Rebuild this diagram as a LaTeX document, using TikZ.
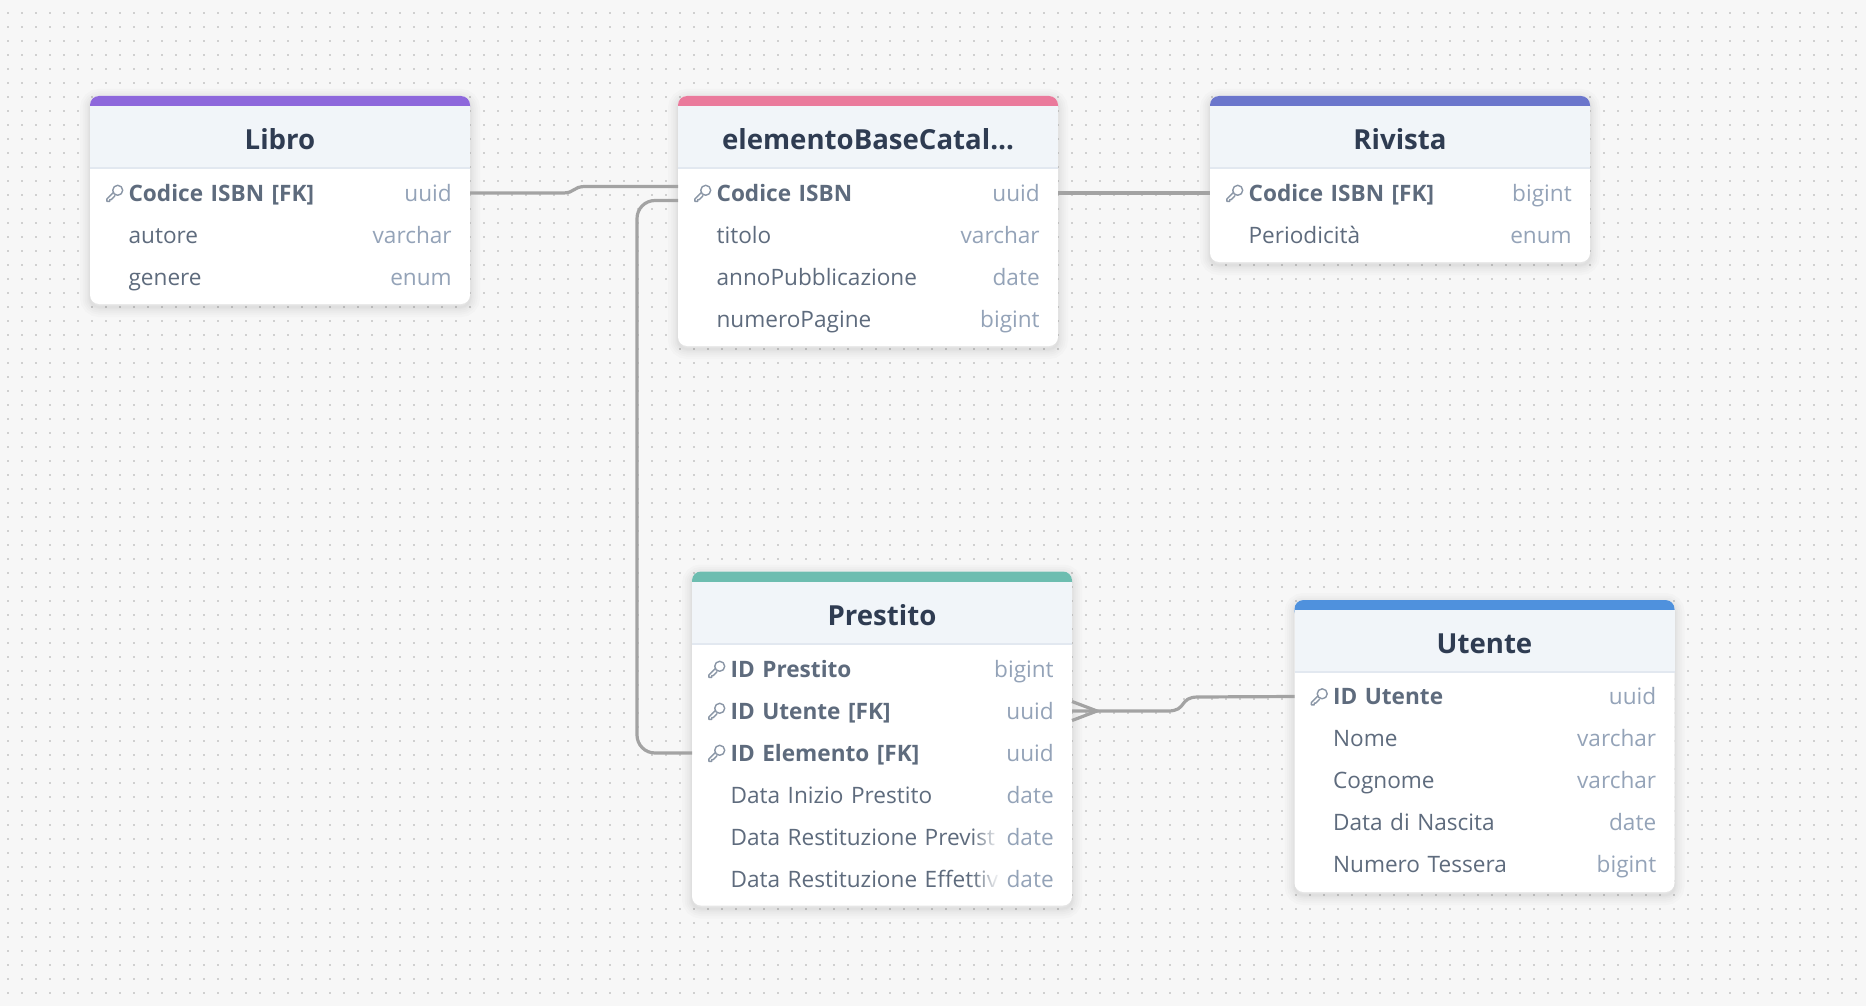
\documentclass[tikz,border=0pt]{standalone}
\usepackage{fontspec}
\setmainfont{Open Sans}
\usepackage{tikz}
\usetikzlibrary{fadings}
\definecolor{pagegray}{HTML}{F7F7F7}
\definecolor{dotgray}{HTML}{D0D0D0}
\definecolor{linkgray}{HTML}{A3A3A3}
\definecolor{headgray}{HTML}{F1F5F9}
\definecolor{sepgray}{HTML}{E2E8F0}
\definecolor{titlegray}{HTML}{2F3C52}
\definecolor{fieldgray}{HTML}{5E6B7D}
\definecolor{typegray}{HTML}{94A3B8}
\definecolor{keygray}{HTML}{8A96A6}
\definecolor{libropurple}{HTML}{8E68DC}
\definecolor{elementopink}{HTML}{EA7A9C}
\definecolor{rivistablue}{HTML}{6B76CC}
\definecolor{prestitogreen}{HTML}{6DBDB0}
\definecolor{utenteblue}{HTML}{4F91DD}
\newcommand{\Frow}[2]{\hspace*{38.6pt}\rlap{\textcolor{fieldgray}{#1}}\hfill\textcolor{typegray}{#2}\hspace*{18.3pt}\null}
\newcommand{\Fkey}[2]{\Frow{\bfseries #1}{#2}}
\tikzfading[name=rowfade, left color=transparent!100, right color=transparent!0]
\tikzset{shadowring/.style={preaction={transform canvas={yshift=-3pt},draw=black,fill=none,line width=#1,opacity=.017}}}
\tikzset{tablebody/.style={rectangle,rounded corners=9pt,fill=white,minimum width=380pt,inner sep=0pt,outer sep=0pt,
  shadowring=20pt,shadowring=15pt,shadowring=11pt,shadowring=7pt,shadowring=4pt,shadowring=2pt}}
\tikzset{tablebar/.style={rectangle,rounded corners=9pt,minimum width=380pt,minimum height=20pt,inner sep=0pt,outer sep=0pt}}
\tikzset{tablehead/.style={rectangle,fill=headgray,minimum width=380pt,minimum height=62pt,inner sep=0pt,outer sep=0pt,
  text=titlegray,font=\fontsize{27.6}{32}\selectfont\bfseries,text height=27.4pt,text depth=2.6pt}}
\tikzset{tablerow/.style={rectangle,minimum height=42pt,inner sep=0pt,outer sep=0pt,text width=380pt,
  font=\fontsize{22.6}{26}\selectfont,text height=26pt,text depth=10pt}}
\tikzset{sepline/.style={draw=sepgray,line width=1.5pt}}
\tikzset{dotline/.style={draw=dotgray,line width=1.7pt,dash pattern=on 1.7pt off 12.3pt}}
\tikzset{linkline/.style={draw=linkgray,line width=3.2pt}}
\tikzset{rowfadebox/.style={rectangle,fill=white,minimum width=28pt,minimum height=34pt,inner sep=0pt,path fading=rowfade}}
\tikzset{keyicon/.pic={
  \draw[draw=keygray,line width=1.4pt,line join=round] (3,-2.7) circle (5pt);
  \draw[draw=keygray,line width=1.4pt,line join=round] (-1.2,-0.6) -- (-7.8,6) -- (-7.8,8.4) -- (-5,8.4) -- (-5,6.6) -- (-3.4,6.6) -- (0.6,2.4);
}}
\begin{document}
\begin{tikzpicture}[x=1pt,y=-1pt]
\useasboundingbox (0,0) rectangle (1866,1006);
\fill[pagegray] (0,0) rectangle (1866,1006);
\foreach \dotrow in {0,...,71}
  \draw[dotline] (7,12.7+14*\dotrow) -- (1866,12.7+14*\dotrow);
% Libro
\node (libroB) [tablebody,minimum height=208pt] at (280,200) {};
\node (libroT) [tablebar,fill=libropurple] at (280,106) {};
\node (libroH) [tablehead] at (280,137) {Libro};
\draw[sepline] (libroH.south west) -- (libroH.south east);
\node (libroR1) [tablerow] at (280,193) {\Fkey{Codice ISBN [FK]}{uuid}};
\node (libroR2) [tablerow] at (280,235) {\Frow{autore}{varchar}};
\node (libroR3) [tablerow] at (280,277) {\Frow{genere}{enum}};
\pic at ([xshift=24.7pt]libroR1.west) {keyicon};
% elementoBaseCatalogo
\node (elemB) [tablebody,minimum height=250pt] at (868,221) {};
\node (elemT) [tablebar,fill=elementopink] at (868,106) {};
\node (elemH) [tablehead] at (868,137) {elementoBaseCatal…};
\draw[sepline] (elemH.south west) -- (elemH.south east);
\node (elemR1) [tablerow] at (868,193) {\Fkey{Codice ISBN}{uuid}};
\node (elemR2) [tablerow] at (868,235) {\Frow{titolo}{varchar}};
\node (elemR3) [tablerow] at (868,277) {\Frow{annoPubblicazione}{date}};
\node (elemR4) [tablerow] at (868,319) {\Frow{numeroPagine}{bigint}};
\pic at ([xshift=24.7pt]elemR1.west) {keyicon};
% Rivista
\node (rivB) [tablebody,minimum height=166pt] at (1400,179) {};
\node (rivT) [tablebar,fill=rivistablue] at (1400,106) {};
\node (rivH) [tablehead] at (1400,137) {Rivista};
\draw[sepline] (rivH.south west) -- (rivH.south east);
\node (rivR1) [tablerow] at (1400,193) {\Fkey{Codice ISBN [FK]}{bigint}};
\node (rivR2) [tablerow] at (1400,235) {\Frow{Periodicità}{enum}};
\pic at ([xshift=24.7pt]rivR1.west) {keyicon};
% Prestito
\node (prestB) [tablebody,minimum height=334pt] at (882,738.5) {};
\node (prestT) [tablebar,fill=prestitogreen] at (882,581.5) {};
\node (prestH) [tablehead] at (882,613) {Prestito};
\draw[sepline] (prestH.south west) -- (prestH.south east);
\node (prestR1) [tablerow] at (882,669) {\Fkey{ID Prestito}{bigint}};
\node (prestR2) [tablerow] at (882,711) {\Fkey{ID Utente [FK]}{uuid}};
\node (prestR3) [tablerow] at (882,753) {\Fkey{ID Elemento [FK]}{uuid}};
\node (prestR4) [tablerow] at (882,795) {\Frow{Data Inizio Prestito}{date}};
\node (prestR5) [tablerow] at (882,837) {\Frow{Data Restituzione Previst}{date}};
\node (prestR6) [tablerow] at (882,879) {\Frow{Data Restituzione Effettiv}{date}};
\node (prestF5) [rowfadebox] at (986,837) {};
\node (prestF6) [rowfadebox] at (986,879) {};
\pic at ([xshift=24.7pt]prestR1.west) {keyicon};
\pic at ([xshift=24.7pt]prestR2.west) {keyicon};
\pic at ([xshift=24.7pt]prestR3.west) {keyicon};
% Utente
\node (utenteB) [tablebody,minimum height=292pt] at (1484.5,746) {};
\node (utenteT) [tablebar,fill=utenteblue] at (1484.5,610) {};
\node (utenteH) [tablehead] at (1484.5,641) {Utente};
\draw[sepline] (utenteH.south west) -- (utenteH.south east);
\node (utenteR1) [tablerow] at (1484.5,696.5) {\Fkey{ID Utente}{uuid}};
\node (utenteR2) [tablerow] at (1484.5,738.5) {\Frow{Nome}{varchar}};
\node (utenteR3) [tablerow] at (1484.5,780.5) {\Frow{Cognome}{varchar}};
\node (utenteR4) [tablerow] at (1484.5,822.5) {\Frow{Data di Nascita}{date}};
\node (utenteR5) [tablerow] at (1484.5,864.5) {\Frow{Numero Tessera}{bigint}};
\pic at ([xshift=24.7pt]utenteR1.west) {keyicon};
%
\draw[linkline] (libroR1.east) -- ++(92,0) to[out=0,in=180,looseness=1.5] ++(24,-6.5) -- ([yshift=6.5pt]elemR1.west);
\draw[linkline] (elemR1.east) -- (rivR1.west);
\draw[linkline,rounded corners=18pt] ([yshift=-7.5pt]elemR1.west) -- ++(-41,0) |- (prestR3.west);
\draw[linkline] (prestR2.east) -- ++(96,0) to[out=0,in=180,looseness=1.5] ++(30,-14) -- (utenteR1.west);
\draw[linkline] ([yshift=9.5pt]prestR2.east) -- ([xshift=25pt]prestR2.east) -- ([yshift=-9.5pt]prestR2.east);
\end{tikzpicture}
\end{document}
